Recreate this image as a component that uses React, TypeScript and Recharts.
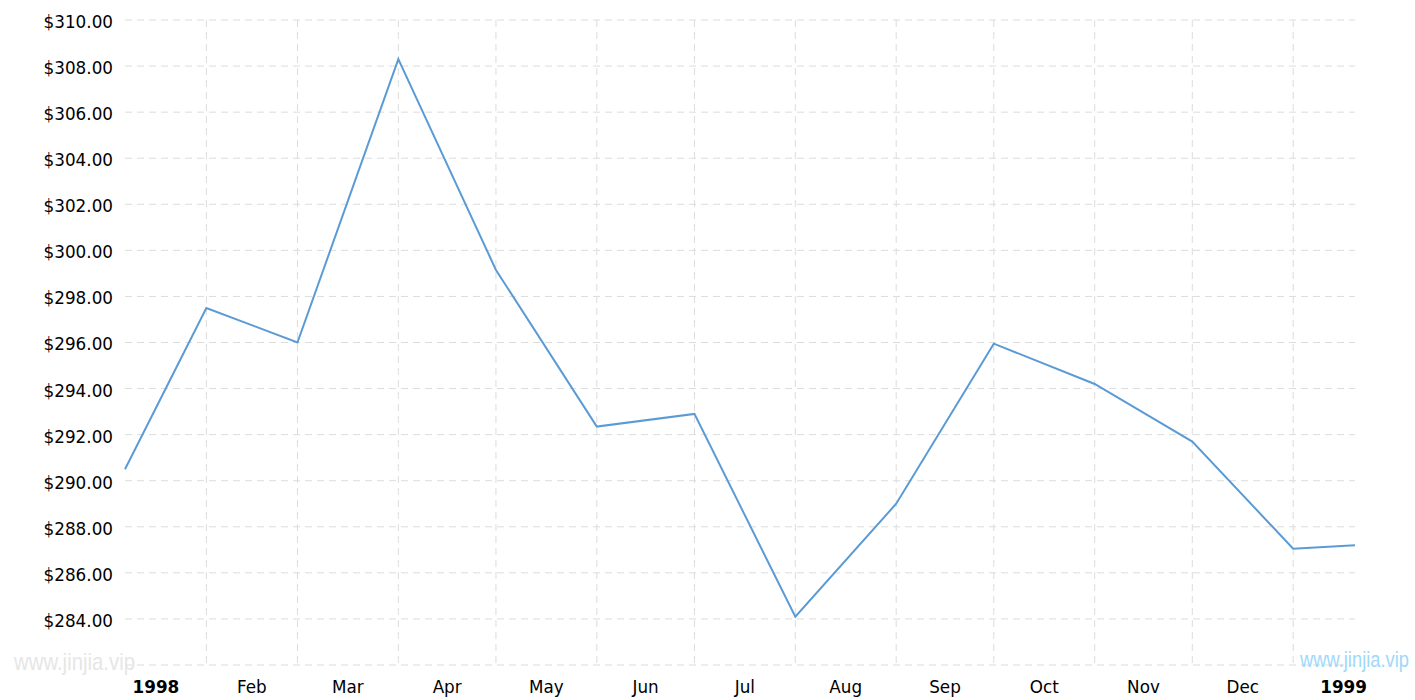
import { LineChart, Line, XAxis, YAxis, CartesianGrid } from "recharts";

// days counted from 1 Jan 1998
const days = [6, 31, 59, 90, 120, 151, 181, 212, 243, 273, 304, 334, 365, 384];
const prices = [290.5, 297.5, 296.0, 308.3, 299.15, 292.35, 292.9, 284.1, 289.0, 295.95, 294.2, 291.7, 287.05, 287.2];

const monthStarts = [31, 59, 90, 120, 151, 181, 212, 243, 273, 304, 334, 365];
const labelDays = [15.5, 45, 74.5, 105, 135.5, 166, 196.5, 227.5, 258, 288.5, 319, 349.5, 380.5];
const labelTexts = ["1998", "Feb", "Mar", "Apr", "May", "Jun", "Jul", "Aug", "Sep", "Oct", "Nov", "Dec", "1999"];

const yTicks = [282, 284, 286, 288, 290, 292, 294, 296, 298, 300, 302, 304, 306, 308, 310];

const data = days.map((d, i) => ({ day: d, price: prices[i] }));

const FONT = "'DejaVu Sans', Verdana, sans-serif";
const MARK_FONT = "'Liberation Sans', Arial, sans-serif";

const XTick = (props: any) => {
  const { x, y, payload } = props;
  const idx = labelDays.indexOf(payload.value);
  const text = labelTexts[idx] ?? "";
  const isYear = /^\d{4}$/.test(text);
  return (
    <text
      x={x}
      y={y}
      dy="0.71em"
      textAnchor="middle"
      fill="#000"
      style={{ fontFamily: FONT, fontSize: 16.8, fontWeight: isYear ? "bold" : "normal" }}
    >
      {text}
    </text>
  );
};

const YTick = (props: any) => {
  const { x, y, payload } = props;
  if (payload.value === 282) return <g />;
  return (
    <text
      x={x}
      y={y + 2}
      dy="0.355em"
      textAnchor="end"
      fill="#000"
      style={{ fontFamily: FONT, fontSize: 16.8 }}
    >
      {`$${Number(payload.value).toFixed(2)}`}
    </text>
  );
};

const App = () => {
  return (
    <div style={{ position: "absolute", left: 0, top: 0, width: 1415, height: 700, background: "#fff" }}>
      <LineChart width={1415} height={700} data={data} margin={{ top: 20, right: 60, left: 0, bottom: 0 }}>
        <CartesianGrid xAxisId="grid" stroke="#dcdcdc" strokeDasharray="7 5" syncWithTicks />
        <XAxis
          xAxisId="grid"
          dataKey="day"
          type="number"
          domain={[6, 384]}
          ticks={monthStarts}
          interval={0}
          axisLine={false}
          tickLine={false}
          tickFormatter={() => ""}
          height={0}
        />
        <XAxis
          dataKey="day"
          type="number"
          domain={[6, 384]}
          ticks={labelDays}
          interval={0}
          axisLine={false}
          tickLine={false}
          tickSize={0}
          tickMargin={16}
          height={35}
          tick={<XTick />}
        />
        <YAxis
          domain={[282, 310]}
          ticks={yTicks}
          interval={0}
          axisLine={false}
          tickLine={false}
          tickSize={0}
          tickMargin={12}
          width={125}
          tick={<YTick />}
        />
        <Line
          type="linear"
          dataKey="price"
          stroke="#5b9bd5"
          strokeWidth={2}
          dot={false}
          isAnimationActive={false}
        />
      </LineChart>
      <svg
        width={1415}
        height={700}
        style={{ position: "absolute", left: 0, top: 0, pointerEvents: "none" }}
      >
        <text
          x={14}
          y={670}
          fill="#e6e6e6"
          textLength={121}
          lengthAdjust="spacingAndGlyphs"
          style={{ fontFamily: MARK_FONT, fontSize: 24 }}
        >
          www.jinjia.vip
        </text>
        <text
          x={1300}
          y={667}
          fill="#a0d8f8"
          textLength={109}
          lengthAdjust="spacingAndGlyphs"
          style={{ fontFamily: MARK_FONT, fontSize: 22 }}
        >
          www.jinjia.vip
        </text>
      </svg>
    </div>
  );
};

export default App;
